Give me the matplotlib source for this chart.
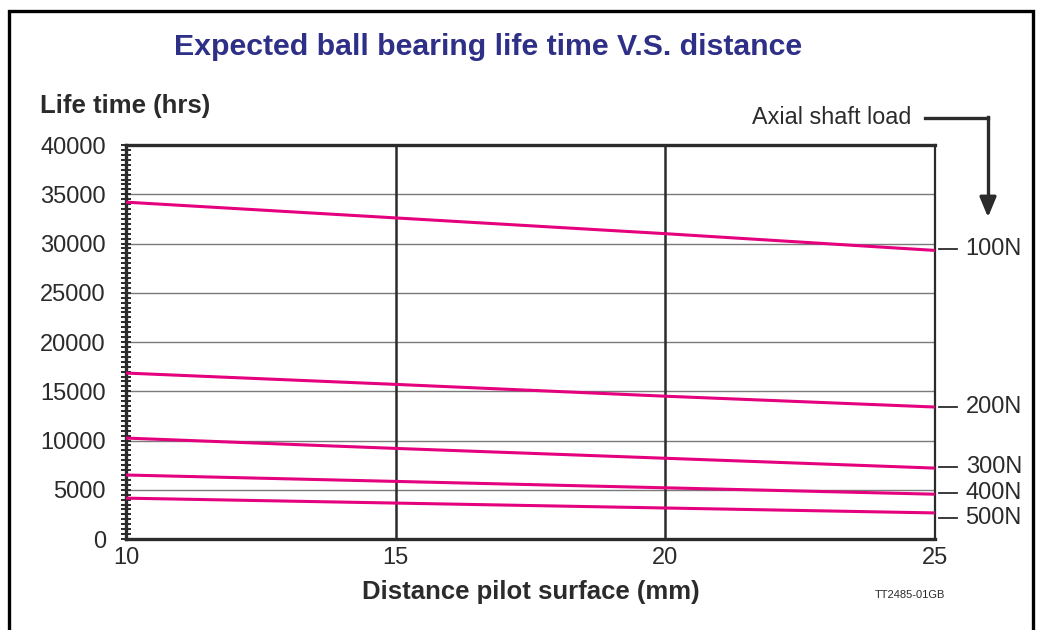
import matplotlib.pyplot as plt
from matplotlib.patches import Rectangle
from matplotlib.ticker import MultipleLocator

plt.rcParams["font.family"] = ["Liberation Sans", "DejaVu Sans"]

PINK = "#e5007e"
NAVY = "#2e2f86"
DARK = "#2b2b2b"

# Distance from pilot surface (mm)
distance = [10, 15, 20, 25]

# Expected life time (hrs) per axial shaft load
loads = ["100N", "200N", "300N", "400N", "500N"]
life_100n = [34200, 32600, 31000, 29300]
life_200n = [16850, 15700, 14500, 13400]
life_300n = [10250, 9200, 8200, 7200]
life_400n = [6500, 5850, 5200, 4550]
life_500n = [4150, 3650, 3150, 2650]
series = [life_100n, life_200n, life_300n, life_400n, life_500n]

# label positions (hrs) at the right edge
label_y = [29400, 13400, 7300, 4650, 2100]

fig = plt.figure(figsize=(10.43, 6.3), dpi=100)
ax = fig.add_axes([0.1208, 0.1444, 0.7757, 0.6254])

for ys in series:
    ax.plot(distance, ys, color=PINK, linewidth=2.2, solid_capstyle="butt", zorder=3)

ax.set_xlim(10, 25)
ax.set_ylim(0, 40000)
ax.set_xticks([10, 15, 20, 25])
ax.yaxis.set_major_locator(MultipleLocator(5000))
ax.yaxis.set_minor_locator(MultipleLocator(500))

for y in range(5000, 40000, 5000):
    ax.axhline(y, color="#7a7a7a", linewidth=1.0, zorder=1)
for x in [15, 20]:
    ax.axvline(x, color=DARK, linewidth=1.8, zorder=2)

for side in ["left", "bottom", "top"]:
    ax.spines[side].set_linewidth(2.4)
    ax.spines[side].set_color(DARK)
ax.spines["right"].set_linewidth(1.6)
ax.spines["right"].set_color(DARK)

ax.tick_params(axis="y", which="both", direction="inout", length=7, width=1.4,
               color=DARK, labelsize=17, labelcolor=DARK, pad=11)
ax.tick_params(axis="x", length=0, labelsize=17, labelcolor=DARK, pad=6)

ax.set_xlabel("Distance pilot surface (mm)", fontsize=18.5, fontweight="bold",
              color=DARK, labelpad=8)

# right-hand load labels: short dash then the load value
for name, y in zip(loads, label_y):
    ax.plot([1.005, 1.0275], [y, y], transform=ax.get_yaxis_transform(),
            color=DARK, linewidth=1.3, clip_on=False)
    ax.annotate(name, xy=(1.0, y), xycoords=("axes fraction", "data"),
                xytext=(22, 0), textcoords="offset points", va="center", ha="left",
                fontsize=17, color=DARK, annotation_clip=False)

fig.text(0.468, 0.925, "Expected ball bearing life time V.S. distance",
         ha="center", va="center", fontsize=21.8, fontweight="bold", color=NAVY)
fig.text(0.038, 0.831, "Life time (hrs)", ha="left", va="center",
         fontsize=18.5, fontweight="bold", color=DARK)
fig.text(0.874, 0.813, "Axial shaft load", ha="right", va="center",
         fontsize=16.8, color=DARK)
fig.text(0.872, 0.056, "TT2485-01GB", ha="center", va="center",
         fontsize=8, color=DARK)

# arrow from the "Axial shaft load" note down to the curves
fig.add_artist(plt.Line2D([925 / 1043, 988 / 1043], [1 - 118 / 630, 1 - 118 / 630],
                          color=DARK, linewidth=2.4))
fig.add_artist(plt.Line2D([988 / 1043, 988 / 1043], [1 - 117 / 630, 1 - 205 / 630],
                          color=DARK, linewidth=2.4))
ax.annotate("", xy=(988 / 1043, 1 - 220 / 630), xytext=(988 / 1043, 1 - 195 / 630),
            xycoords="figure fraction",
            arrowprops=dict(arrowstyle="-|>,head_length=1.2,head_width=0.5",
                            color=DARK, linewidth=2.4))

# outer frame
fig.add_artist(Rectangle((9 / 1043, -0.05), (1033 - 9) / 1043, 1.05 - 11 / 630,
                         transform=fig.transFigure, fill=False,
                         edgecolor="black", linewidth=2.4))

fig.savefig("out.png", dpi=100)
